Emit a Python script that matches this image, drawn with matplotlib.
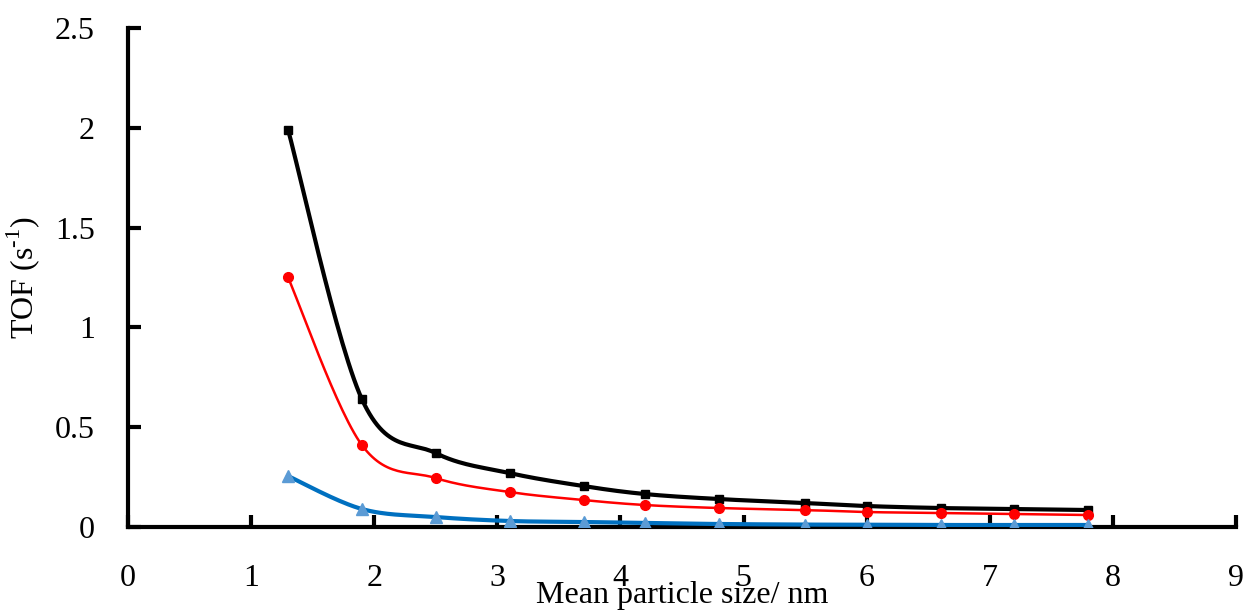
import numpy as np
import matplotlib.pyplot as plt

plt.rcParams['font.family'] = ['Liberation Serif', 'DejaVu Serif']
plt.rcParams['mathtext.fontset'] = 'custom'
plt.rcParams['mathtext.rm'] = 'Liberation Serif'

size_nm = [1.3, 1.9, 2.5, 3.1, 3.7, 4.2, 4.8, 5.5, 6.0, 6.6, 7.2, 7.8]
tof_black = [1.99, 0.64, 0.37, 0.27, 0.205, 0.165, 0.14, 0.12, 0.105, 0.095, 0.09, 0.085]
tof_red = [1.25, 0.41, 0.245, 0.175, 0.135, 0.11, 0.095, 0.085, 0.075, 0.07, 0.065, 0.06]
tof_blue = [0.255, 0.09, 0.05, 0.03, 0.025, 0.02, 0.015, 0.012, 0.012, 0.01, 0.01, 0.01]

xticks = [0, 1, 2, 3, 4, 5, 6, 7, 8, 9]
yticks = [0, 0.5, 1, 1.5, 2, 2.5]
ytick_labels = ['0', '0.5', '1', '1.5', '2', '2.5']


def smooth(x, y, n=30):
    # excel-like smoothed line: cubic bezier with catmull-rom control points
    x = np.asarray(x, float)
    y = np.asarray(y, float)
    px = np.concatenate([[x[0]], x, [x[-1]]])
    py = np.concatenate([[y[0]], y, [y[-1]]])
    t = np.linspace(0, 1, n)[:, None]
    xs, ys = [], []
    for i in range(1, len(px) - 2):
        p0 = np.array([px[i], py[i]])
        p3 = np.array([px[i + 1], py[i + 1]])
        c1 = p0 + (np.array([px[i + 1], py[i + 1]]) - np.array([px[i - 1], py[i - 1]])) / 6
        c2 = p3 - (np.array([px[i + 2], py[i + 2]]) - np.array([px[i], py[i]])) / 6
        b = ((1 - t) ** 3) * p0 + 3 * ((1 - t) ** 2) * t * c1 + 3 * (1 - t) * t ** 2 * c2 + t ** 3 * p3
        xs.append(b[:, 0])
        ys.append(b[:, 1])
    return np.concatenate(xs), np.concatenate(ys)


fig = plt.figure(figsize=(12.49, 6.11), dpi=100)
ax = fig.add_axes([0.1025, 0.1375, 0.8871, 0.8167])

series = [
    (tof_black, 'black', 'black', 's', 3.0, 6),
    (tof_red, '#ff0000', '#ff0000', 'o', 1.8, 7),
    (tof_blue, '#0070c0', '#5b9bd5', '^', 3.0, 9),
]
for vals, lc, mc, mk, lw, ms in series:
    sx, sy = smooth(size_nm, vals)
    ax.plot(sx, sy, color=lc, lw=lw, zorder=3)
    ax.plot(size_nm, vals, ls='none', marker=mk, ms=ms, color=mc, zorder=4)

ax.set_xlim(0, 9)
ax.set_ylim(0, 2.5)
ax.set_xticks(xticks)
ax.set_yticks(yticks)
ax.set_yticklabels(ytick_labels)

for s in ['top', 'right']:
    ax.spines[s].set_visible(False)
for s in ['left', 'bottom']:
    ax.spines[s].set_linewidth(3)

ax.tick_params(axis='x', direction='in', length=9, width=3, pad=27, labelsize=23)
ax.tick_params(axis='y', direction='in', length=9, width=3, pad=24, labelsize=23)

ax.set_xlabel('Mean particle size/ nm', fontsize=23, labelpad=-9)
ax.set_ylabel('TOF (s$^{\\text{-}1}$)', fontsize=23, labelpad=9)

fig.savefig('out.png', dpi=100)
